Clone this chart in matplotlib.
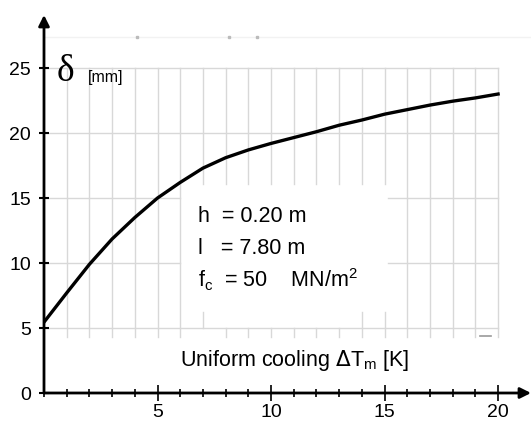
import matplotlib.pyplot as plt
from matplotlib.ticker import MultipleLocator

# deflection curve
cooling = [0, 1, 2, 3, 4, 5, 6, 7, 8, 9, 10, 11, 12, 13, 14, 15, 16, 17, 18, 19, 20]
delta = [5.45, 7.7, 9.9, 11.85, 13.5, 15.0, 16.2, 17.3, 18.1, 18.7, 19.2, 19.65,
         20.1, 20.6, 21.0, 21.45, 21.8, 22.15, 22.45, 22.7, 23.0]

yticks = [0, 5, 10, 15, 20, 25]
xticks = [5, 10, 15, 20]

params = ['h  = 0.20 m', 'l   = 7.80 m', r'f$_\mathregular{c}$  = 50    MN/m$^\mathregular{2}$']

sans = ['Liberation Sans', 'DejaVu Sans']

fig = plt.figure(figsize=(5.31, 4.26), dpi=100)
ax = fig.add_axes([44 / 531, 1 - 393 / 426, 487 / 531, 378 / 426])
ax.set_xlim(0, 21.45)
ax.set_ylim(0, 29.08)
for s in ax.spines.values():
    s.set_visible(False)

# grid, broken where the parameter text sits
gc = '#d8d8d8'
for y in [5, 20, 25]:
    ax.plot([0, 20], [y, y], color=gc, lw=1, zorder=1)
for y in [10, 15]:
    ax.plot([0, 6], [y, y], color=gc, lw=1, zorder=1)
    ax.plot([15.15, 20], [y, y], color=gc, lw=1, zorder=1)
for x in range(1, 21):
    if x <= 6 or x >= 16:
        ax.plot([x, x], [4.3, 25], color=gc, lw=1, zorder=1)
    else:
        ax.plot([x, x], [16.1, 25], color=gc, lw=1, zorder=1)
        if x in (7, 14, 15):
            ax.plot([x, x], [4.3 if x > 7 else 5, 6.2], color=gc, lw=1, zorder=1)
        else:
            ax.plot([x, x], [4.3, 5], color=gc, lw=1, zorder=1)
ax.plot([0, 21.4], [27.4, 27.4], color='#f2f2f2', lw=1, zorder=0)
ax.plot([4.1, 8.15, 9.4], [27.4, 27.4, 27.4], 's', ms=1.5, color='#bbbbbb', zorder=1)
ax.plot([19.2, 19.7], [4.4, 4.4], color='#999999', lw=1.2, zorder=1)

ax.plot(cooling, delta, color='black', lw=2.4, zorder=3)

# axes with arrows
ax.annotate('', xy=(0, 29.08), xytext=(0, 0),
            arrowprops=dict(arrowstyle='-|>', lw=2, color='black', mutation_scale=16,
                            shrinkA=0, shrinkB=0), annotation_clip=False)
ax.annotate('', xy=(21.45, 0), xytext=(0, 0),
            arrowprops=dict(arrowstyle='-|>', lw=2, color='black', mutation_scale=16,
                            shrinkA=0, shrinkB=0), annotation_clip=False)

ax.set_yticks(yticks)
ax.set_xticks(xticks)
ax.xaxis.set_minor_locator(MultipleLocator(1))
ax.tick_params(axis='y', direction='inout', length=7, width=1.5, pad=6)
ax.tick_params(axis='x', which='major', direction='inout', length=12, width=1.2, pad=2)
ax.tick_params(axis='x', which='minor', direction='inout', length=6, width=1.2)
for lab in ax.get_xticklabels() + ax.get_yticklabels():
    lab.set_family(sans)
    lab.set_fontsize(14)

ax.text(0.55, 24.7, 'δ', family=['Liberation Serif', 'DejaVu Serif'], fontsize=27,
        va='center', ha='left')
ax.text(1.95, 24.3, '[mm]', family=sans, fontsize=11.5, va='center', ha='left')

for i, t in enumerate(params):
    ax.text(6.8, 13.6 - 2.45 * i, t, family=sans, fontsize=15.5, va='center', ha='left')

ax.text(6.0, 2.5, r'Uniform cooling $\Delta$T$_\mathregular{m}$ [K]', family=sans,
        fontsize=15.5, va='center', ha='left')

fig.savefig('out.png', dpi=100)
